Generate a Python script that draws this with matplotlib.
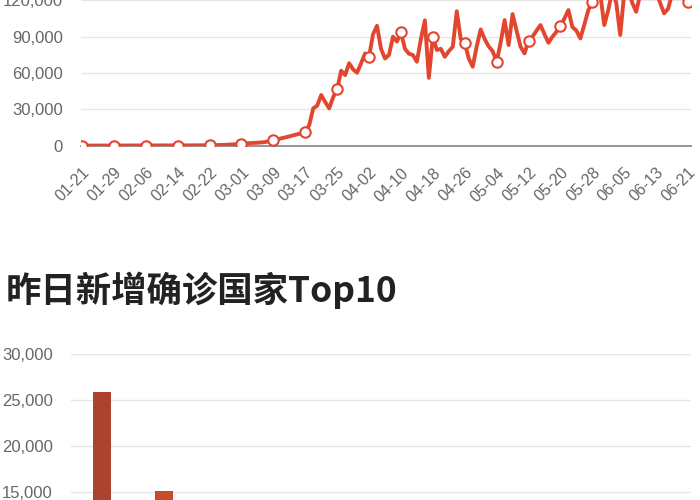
import matplotlib
matplotlib.use("Agg")
import matplotlib.pyplot as plt
from matplotlib.ticker import FuncFormatter

plt.rcParams['font.family'] = ['Liberation Sans', 'Noto Sans CJK SC', 'DejaVu Sans']

# daily new confirmed cases, 01-21 .. 06-21 (one value per day)
daily_cases = [
    0, 5, 10, 8, 12, 15, 20, 18, 25, 22, 30, 28, 35, 30, 40, 38, 45, 42, 50, 55,
    60, 58, 70, 80, 75, 90, 100, 120, 150, 180, 220, 260, 300,
    350, 420, 500, 650, 800, 1000, 1300, 1600,
    1800, 2000, 2200, 2400, 2600, 3000, 3600, 4400,
    5200, 6000, 6800, 7600, 8500, 9300, 10200, 11000,
    17000, 30800, 33000, 41800, 36000, 30800, 40000, 46500,
    61900, 58300, 68000, 63000, 60200, 68000, 76200, 73500,
    92000, 99000, 80000, 72000, 75000, 90000, 86000, 93600,
    80000, 76000, 74800, 69300, 88000, 103500, 56000, 90000,
    79000, 80000, 73400, 78000, 81700, 111000, 88000, 85000,
    72000, 65200, 82000, 96000, 88000, 82000, 78000, 69300,
    85000, 103700, 83100, 108700, 95000, 81700, 76200, 86700,
    90000, 95000, 99600, 92000, 85000, 90000, 94000, 98800,
    105000, 112000, 98000, 95000, 88600, 100000, 112000, 119000,
    130000, 125000, 99600, 112000, 128000, 118000, 91400, 126000,
    131000, 118000, 110600, 125000, 132000, 128000, 126000, 127000,
    118000, 109300, 113000, 125000, 130000, 128000, 124000, 119000,
]
tick_labels = ['01-21', '01-29', '02-06', '02-14', '02-22', '03-01', '03-09',
               '03-17', '03-25', '04-02', '04-10', '04-18', '04-26', '05-04',
               '05-12', '05-20', '05-28', '06-05', '06-13', '06-21']
tick_step = 8

# yesterday's top 10 countries by new confirmed cases (only the first two are visible)
countries = ['美国', '巴西', '印度', '俄罗斯', '智利', '墨西哥', '秘鲁', '巴基斯坦', '南非', '沙特']
new_cases = [25900, 15100, 8000, 7600, 4500, 4000, 3500, 3000, 2500, 2000]
bar_colors = ['#ab432f', '#c64b2f', '#c64b2f', '#c64b2f', '#c64b2f',
              '#c64b2f', '#c64b2f', '#c64b2f', '#c64b2f', '#c64b2f']

thousands = FuncFormatter(lambda v, p: f"{int(v):,}")
label_color = '#666666'
grid_color = '#e6e6e6'

fig = plt.figure(figsize=(7, 5), dpi=100)

# ---- top: daily trend line ----
ax1 = fig.add_axes([81 / 700, 1 - 145.6 / 500, 610 / 700, 181.5 / 500])
days = list(range(len(daily_cases)))
ax1.plot(days, daily_cases, color='#e2462f', lw=2.8, solid_joinstyle='round',
         solid_capstyle='round', marker='o', markevery=tick_step, markersize=7.5,
         markerfacecolor='white', markeredgecolor='#e2462f', markeredgewidth=1.5,
         zorder=3)
ax1.set_xlim(-0.25, len(daily_cases) - 0.25)
ax1.set_ylim(0, 150000)
ax1.set_yticks([0, 30000, 60000, 90000, 120000, 150000])
ax1.yaxis.set_major_formatter(thousands)
ax1.set_xticks(days[::tick_step])
ax1.set_xticklabels(tick_labels, rotation=45, ha='right', rotation_mode='anchor')
ax1.grid(axis='y', color=grid_color, lw=1)
ax1.set_axisbelow(True)
for s in ['top', 'right', 'left']:
    ax1.spines[s].set_visible(False)
ax1.spines['bottom'].set_color('#8c8c8c')
ax1.spines['bottom'].set_linewidth(1.3)
ax1.tick_params(axis='y', length=0, pad=13, labelsize=12, labelcolor=label_color)
ax1.tick_params(axis='x', length=0, pad=14, labelsize=11.5, labelcolor=label_color)

# ---- section title ----
fig.text(6 / 700, 1 - 290 / 500, '昨日新增确诊国家Top10', fontsize=25.5,
         fontweight='bold', color='#222222', va='center', ha='left',
         family=['Noto Sans CJK SC', 'DejaVu Sans'])

# ---- bottom: top10 bar chart ----
ax2 = fig.add_axes([71 / 700, 1 - 630 / 500, 620 / 700, 276 / 500])
ax2.bar(range(len(countries)), new_cases, width=0.29, color=bar_colors, zorder=3)
ax2.set_xlim(-0.5, len(countries) - 0.5)
ax2.set_ylim(0, 30000)
ax2.set_yticks(range(15000, 30001, 5000))
ax2.yaxis.set_major_formatter(thousands)
ax2.set_xticks([])
ax2.grid(axis='y', color=grid_color, lw=1)
ax2.set_axisbelow(True)
for s in ['top', 'right', 'left', 'bottom']:
    ax2.spines[s].set_visible(False)
ax2.tick_params(axis='y', length=0, pad=13, labelsize=12, labelcolor=label_color)

fig.savefig('out.png', dpi=100)
